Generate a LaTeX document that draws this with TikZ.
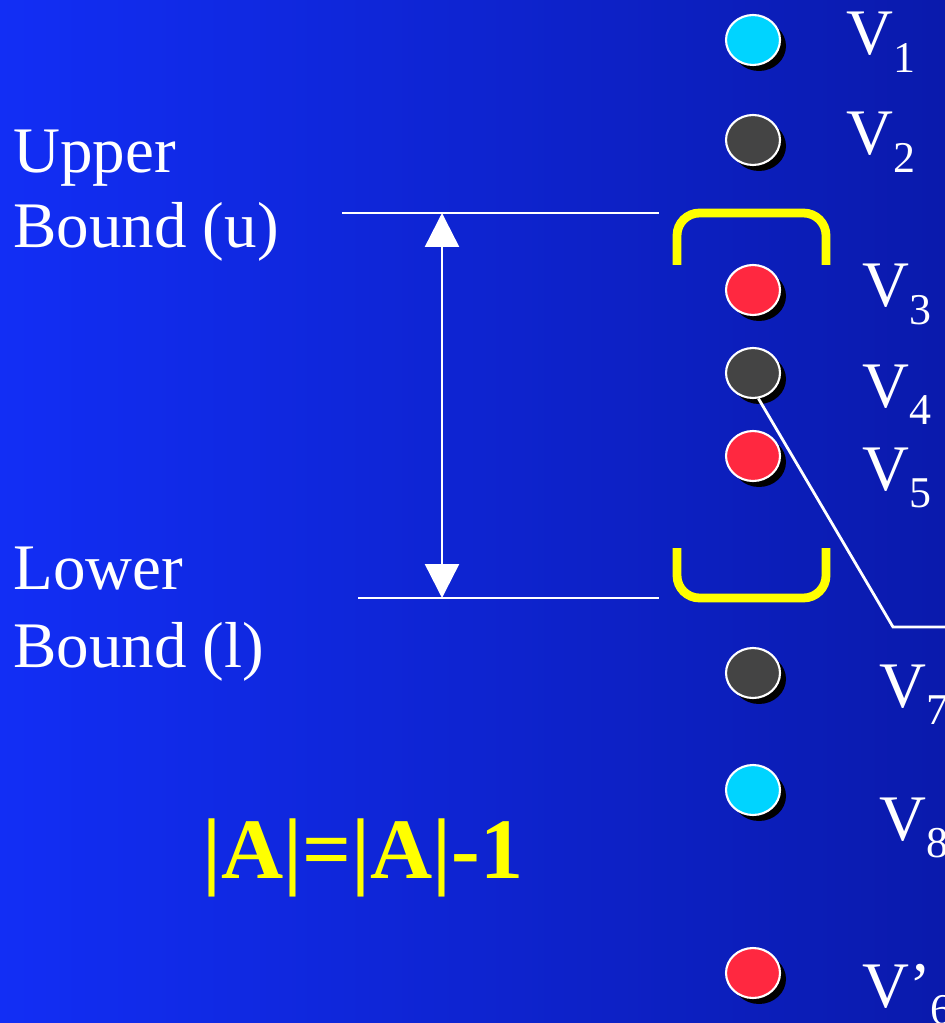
\documentclass[tikz,border=0pt]{standalone}
\usepackage{fontspec}
\setmainfont{Liberation Serif}
\usetikzlibrary{arrows.meta,shapes.geometric,shadows}
\definecolor{bgleft}{RGB}{18,46,245}
\definecolor{bgright}{RGB}{10,26,172}
\definecolor{vcyan}{RGB}{0,212,255}
\definecolor{vgray}{RGB}{68,68,68}
\definecolor{vred}{RGB}{255,40,64}
\definecolor{brk}{RGB}{255,255,0}
\newcommand{\bigtxt}{\fontsize{37}{44}\selectfont}
\newcommand{\vsub}[1]{\raisebox{-0.35cm}{\fontsize{25}{25}\selectfont #1}}
\tikzset{
  vtx/.style={ellipse, draw=white, line width=1.2pt, fill=#1,
    minimum width=1.08cm, minimum height=1cm, inner sep=0pt,
    drop shadow={fill=black, opacity=1, shadow xshift=0.12cm, shadow yshift=-0.12cm}},
  vlab/.style={anchor=base west, inner sep=0pt, text=white, font=\bigtxt},
  bound/.style={anchor=base west, inner sep=0pt, text=white, font=\bigtxt},
  bracket/.style={draw=brk, line width=5pt, rounded corners=0.45cm},
  wline/.style={draw=white, line width=1.4pt}
}
\begin{document}
\begin{tikzpicture}[x=0.02cm, y=-0.02cm]
        \useasboundingbox (0,0) rectangle (945,1023);
        \shade[left color=bgleft, right color=bgright] (0,0) rectangle (945,1023);
        % bounds
        \node[bound] (up1) at (13,173) {Upper};
        \node[bound] (up2) at (13,248) {Bound (u)};
        \node[bound] (lo1) at (13,589) {Lower};
        \node[bound] (lo2) at (13,667) {Bound (l)};
        \coordinate (ul) at (342,213);
        \coordinate (ur) at (659,213);
        \coordinate (ll) at (358,598);
        \coordinate (lr) at (659,598);
        \coordinate (atop) at (442,213);
        \coordinate (abot) at (442,598);
        \draw[wline] (ul) -- (ur);
        \draw[wline] (ll) -- (lr);
        \draw[wline, {Triangle[width=0.68cm,length=0.68cm]}-{Triangle[width=0.68cm,length=0.68cm]}] (atop) -- (abot);
        % brackets
        \draw[bracket] (677,265) -- (677,213) -- (826,213) -- (826,265);
        \draw[bracket] (677,548) -- (677,598) -- (826,598) -- (826,548);
        % vertices
        \node[vtx=vcyan] (v1) at (753,40) {};
        \node[vtx=vgray] (v2) at (753,140) {};
        \node[vtx=vred] (v3) at (753,290) {};
        \node[vtx=vgray] (v4) at (753,373) {};
        \node[vtx=vred] (v5) at (753,456) {};
        \node[vtx=vgray] (v7) at (753,673) {};
        \node[vtx=vcyan] (v8) at (753,790) {};
        \node[vtx=vred] (v6) at (753,973) {};
        \coordinate (bend) at (893,627);
        \coordinate (out) at (945,627);
        \draw[wline, line width=1.6pt] (v4.-78) -- (bend) -- (out);
        % labels
        \node[vlab] (l1) at (846,55) {V\vsub{1}};
        \node[vlab] (l2) at (846,155) {V\vsub{2}};
        \node[vlab] (l3) at (862,307) {V\vsub{3}};
        \node[vlab] (l4) at (862,407) {V\vsub{4}};
        \node[vlab] (l5) at (862,490) {V\vsub{5}};
        \node[vlab] (l7) at (879,707) {V\vsub{7}};
        \node[vlab] (l8) at (879,840) {V\vsub{8}};
        \node[vlab] (l6) at (862,1007) {V’\vsub{6}};
        \node[anchor=base west, inner sep=0pt, text=brk, font=\fontsize{49}{56}\selectfont\bfseries] (eq) at (202,878) {|A|=|A|-1};
    \end{tikzpicture}
\end{document}
